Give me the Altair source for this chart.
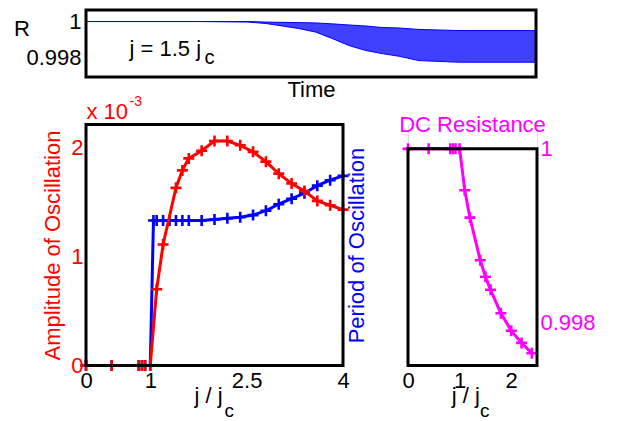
import altair as alt
import pandas as pd

FONT = "Liberation Sans"
RED = "#ff0000"
BLUE = "#0000ff"
MAG = "#ff00ff"
PLUS = "M-1,0L1,0M0,-1L0,1"

# ---------------- top panel: R(t) envelope at j = 1.5 jc ----------------
time_pts = [0, 25, 36, 40, 47.3, 51.1, 54.7, 58.4, 62.2, 65.8, 69.6, 74, 82.9, 100]
r_upper = [1.0, 1.0, 1.0, 0.99997, 0.99994, 0.99992, 0.99987, 0.99981,
           0.99975, 0.99967, 0.99964, 0.99956, 0.9995, 0.9995]
r_lower = [1.0, 1.0, 0.99997, 0.99989, 0.99961, 0.99941, 0.99906, 0.99867,
           0.99839, 0.99822, 0.99807, 0.99783, 0.99774, 0.99774]
top_ticks = [0.998, 1.0]

# ---------------- bottom-left: amplitude and period ----------------
j_amp = [0, 0.4, 0.82, 0.87, 0.92, 1.0, 1.1, 1.2, 1.4, 1.5, 1.6, 1.8, 2.0,
         2.2, 2.4, 2.6, 2.8, 3.0, 3.2, 3.4, 3.6, 3.8, 4.0]
amp = [0, 0, 0, 0, 0, 0, 0.70, 1.11, 1.63, 1.79, 1.90, 1.97, 2.06,
       2.06, 2.02, 1.96, 1.87, 1.76, 1.67, 1.60, 1.51, 1.47, 1.43]
j_per = [0, 0.4, 0.82, 0.87, 0.92, 1.0, 1.05, 1.1, 1.2, 1.3, 1.4, 1.5, 1.6,
         1.8, 2.0, 2.2, 2.4, 2.6, 2.8, 3.0, 3.2, 3.4, 3.6, 3.8, 4.0]
period = [0, 0, 0, 0, 0, 0, 1.33, 1.33, 1.33, 1.33, 1.33, 1.33, 1.33,
          1.33, 1.34, 1.35, 1.36, 1.38, 1.42, 1.48, 1.53, 1.58, 1.65, 1.70, 1.74]
left_xticks = [0, 1, 2.5, 4]
left_yticks = [0, 1, 2]

# ---------------- bottom-right: DC resistance ----------------
j_dc = [0, 0.4, 0.82, 0.87, 0.92, 1.0, 1.1, 1.2, 1.4, 1.5, 1.6, 1.8, 2.0, 2.2, 2.4]
r_dc = [1.0, 1.0, 1.0, 1.0, 1.0, 1.0, 0.999525, 0.99921, 0.99872, 0.99853,
        0.99838, 0.99811, 0.99791, 0.99777, 0.99765]
right_xticks = [0, 1, 2]
right_yticks = [0.998, 1.0]

one = pd.DataFrame({"k": [0]})


def txt(s, x, y, size=22, color="black", align="left"):
    return alt.Chart(one).mark_text(
        text=s, font=FONT, fontSize=size, color=color, align=align,
        baseline="alphabetic").encode(x=alt.value(x), y=alt.value(y))


def frame():
    return alt.Chart(one).mark_rect(filled=False, stroke="black", strokeWidth=3).encode(
        x=alt.value(0), x2=alt.value("width"), y=alt.value(0), y2=alt.value("height"))


def xaxis(values):
    return alt.Axis(values=values, format=".3~g", labelFont=FONT, labelFontSize=22,
                    labelColor="black", labelPadding=5, labelFlush=False, ticks=False,
                    domain=False, grid=False, title=None)


def plus(df, xf, yf, xs, ys, xa, ya, color):
    return alt.Chart(df).mark_point(shape=PLUS, size=121, filled=False, color=color,
                                    strokeWidth=2.6, opacity=1).encode(
        x=alt.X(xf, scale=xs, axis=xa), y=alt.Y(yf, scale=ys, axis=ya))


# ---------------- top ----------------
top_df = pd.DataFrame({"t": time_pts, "hi": r_upper, "lo": r_lower})
xs_top = alt.Scale(domain=[0, 100], nice=False, zero=False)
ys_top = alt.Scale(domain=[0.99692, 1.00064], nice=False, zero=False)
xa_top = alt.Axis(labels=False, ticks=False, domain=False, grid=False, title="Time",
                  titleFont=FONT, titleFontSize=22, titleFontWeight="normal",
                  titleColor="black", titlePadding=2)
ya_top = alt.Axis(values=top_ticks, format=".3~f", ticks=False, domain=False, grid=False,
                  labelFont=FONT, labelFontSize=22, labelColor="black", labelPadding=5,
                  labelFlush=False,
                  title="R", titleAngle=0, titleX=-64.5, titleY=18.5, titleAlign="center",
                  titleBaseline="middle", titleFont=FONT, titleFontSize=22,
                  titleFontWeight="normal", titleColor="black")
band = alt.Chart(top_df).mark_area(color=BLUE, opacity=0.75).encode(
    x=alt.X("t:Q", scale=xs_top, axis=xa_top),
    y=alt.Y("lo:Q", scale=ys_top, axis=ya_top),
    y2="hi:Q")
up_line = alt.Chart(top_df).mark_line(color=BLUE, strokeWidth=1).encode(
    x=alt.X("t:Q", scale=xs_top, axis=xa_top), y=alt.Y("hi:Q", scale=ys_top, axis=ya_top))
lo_line = alt.Chart(top_df).mark_line(color=BLUE, strokeWidth=1).encode(
    x=alt.X("t:Q", scale=xs_top, axis=xa_top), y=alt.Y("lo:Q", scale=ys_top, axis=ya_top))
top = alt.layer(band, up_line, lo_line, frame(),
                txt("j = 1.5 j", 43.5, 45.5), txt("c", 118.5, 53.5, size=20)
                ).properties(width=450, height=67)

# ---------------- bottom-left ----------------
amp_df = pd.DataFrame({"j": j_amp, "amp": amp})
per_df = pd.DataFrame({"j": j_per, "period": period})
xs_l = alt.Scale(domain=[0, 4], nice=False, zero=False)
ys_l = alt.Scale(domain=[0, 2.211], nice=False, zero=False)
xa_l = xaxis(left_xticks)
ya_blue = alt.Axis(orient="right", labels=False, ticks=False, domain=False, grid=False,
                   title="Period of Oscillation", titleColor=BLUE, titleFont=FONT,
                   titleFontSize=22, titleFontWeight="normal", titleAngle=270,
                   titleX=13.5, titleY=120.5, titleAlign="center", titleBaseline="middle")
ya_red = alt.Axis(values=left_yticks, format="~g", ticks=False, domain=False, grid=False,
                  labelFont=FONT, labelFontSize=22, labelColor=RED, labelPadding=3,
                  labelFlush=False,
                  title="Amplitude of Oscillation", titleColor=RED, titleFont=FONT,
                  titleFontSize=22, titleFontWeight="normal", titleAngle=270,
                  titleX=-34, titleY=120.5, titleAlign="center", titleBaseline="middle")

blue_line = alt.Chart(per_df).mark_line(color=BLUE, strokeWidth=3).encode(
    x=alt.X("j:Q", scale=xs_l, axis=xa_l),
    y=alt.Y("period:Q", scale=ys_l, axis=ya_blue))
blue_pts = plus(per_df, "j:Q", "period:Q", xs_l, ys_l, xa_l, ya_blue, BLUE)
blue = alt.layer(blue_line, blue_pts)

red_line = alt.Chart(amp_df).mark_line(color=RED, strokeWidth=3).encode(
    x=alt.X("j:Q", scale=xs_l, axis=xa_l),
    y=alt.Y("amp:Q", scale=ys_l, axis=ya_red))
red_pts = plus(amp_df, "j:Q", "amp:Q", xs_l, ys_l, xa_l, ya_red, RED)
red = alt.layer(red_line, red_pts, frame(),
                txt("x 10", 0.5, -6, color=RED), txt("-3", 43.5, -19, size=14, color=RED),
                txt("j / j", 108.5, 278), txt("c", 138.5, 292.5, size=19))
left = alt.layer(blue, red).resolve_scale(y="independent").properties(width=257, height=241)

# ---------------- bottom-right ----------------
dc_df = pd.DataFrame({"j": j_dc, "r": r_dc})
xs_r = alt.Scale(domain=[0, 2.5], nice=False, zero=False)
ys_r = alt.Scale(domain=[0.99751, 1.00028], nice=False, zero=False)
xa_r = xaxis(right_xticks)
ya_r = alt.Axis(orient="right", values=right_yticks, format=".3~f", ticks=False,
                domain=False, grid=False, labelFont=FONT, labelFontSize=22,
                labelColor=MAG, labelPadding=3, labelFlush=False, title=None)
dc_line = alt.Chart(dc_df).mark_line(color=MAG, strokeWidth=3).encode(
    x=alt.X("j:Q", scale=xs_r, axis=xa_r),
    y=alt.Y("r:Q", scale=ys_r, axis=ya_r))
dc_pts = plus(dc_df, "j:Q", "r:Q", xs_r, ys_r, xa_r, ya_r, MAG)
dc_frame = alt.Chart(one).mark_rect(filled=False, stroke="black", strokeWidth=3).encode(
    x=alt.value(0), x2=alt.value("width"),
    y=alt.Y(datum=1.0, scale=ys_r, axis=ya_r), y2=alt.value("height"))
right = alt.layer(dc_line, dc_pts, dc_frame,
                  txt("DC Resistance", 64.5, 7.7, color=MAG, align="center"),
                  txt("j / j", 43.7, 278), txt("c", 72, 292.5, size=19)
                  ).properties(width=129, height=241)

bottom = alt.hconcat(left, right, spacing=65, bounds="flush")
chart = alt.vconcat(top, bottom, spacing=47.5, bounds="flush").properties(
    padding={"left": 5, "top": 0, "right": 0, "bottom": 0}
).configure_view(strokeWidth=0).configure(font=FONT)

chart.save("out.html", embed_options={"renderer": "svg", "actions": False})
